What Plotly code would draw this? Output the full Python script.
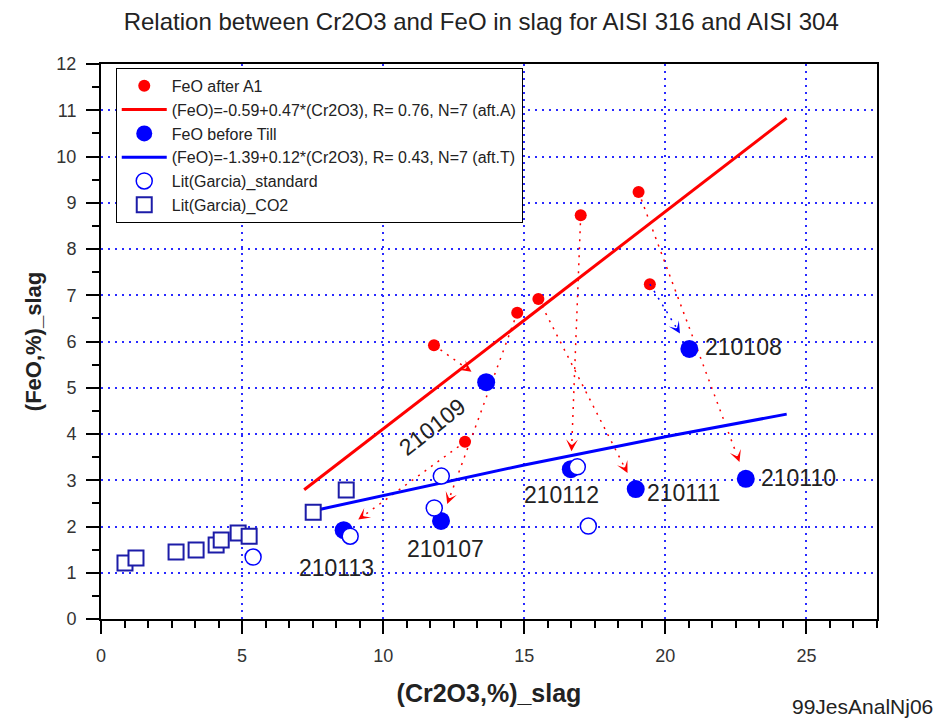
import math
import plotly.graph_objects as go

# ---------------- data ----------------
feo_after_x = [11.8, 14.75, 15.5, 17.0, 19.05, 19.45, 12.9]
feo_after_y = [5.92, 6.62, 6.92, 8.73, 9.23, 7.24, 3.83]

heat_ids = ["210109", "210107", "210111", "210112", "210110", "210108", "210113"]
feo_before_x = [13.65, 12.05, 18.95, 16.65, 22.85, 20.85, 8.6]
feo_before_y = [5.12, 2.12, 2.81, 3.24, 3.03, 5.84, 1.92]

lit_std_x = [8.83, 12.06, 11.81, 16.88, 17.27, 5.39]
lit_std_y = [1.79, 3.09, 2.40, 3.29, 2.01, 1.34]

lit_co2_x = [0.85, 1.24, 2.66, 3.37, 4.08, 4.26, 4.86, 5.25, 7.52, 8.69]
lit_co2_y = [1.21, 1.32, 1.45, 1.49, 1.60, 1.71, 1.86, 1.79, 2.31, 2.79]

fit_a_intercept, fit_a_slope = -0.59, 0.47
fit_a_x = [7.2, 24.3]

fit_t_x = [7.3, 10, 15, 20, 24.3]
fit_t_y = [2.31, 2.67, 3.33, 3.94, 4.43]

x_ticks = [0, 5, 10, 15, 20, 25]
y_ticks = list(range(0, 13))

# ---------------- style / layout ----------------
W, H = 940, 722
M_L, M_R, M_T, M_B = 101, 63, 64, 103
X_RANGE = [0, 27.5]
Y_RANGE = [0, 12]
RED = "#ff0000"
BLUE = "#0000ff"
NAVY = "#1c1ca8"
TXT = "#222222"
FONT = "Liberation Sans, Arial, sans-serif"

kx = (W - M_L - M_R) / (X_RANGE[1] - X_RANGE[0])
ky = (H - M_T - M_B) / (Y_RANGE[1] - Y_RANGE[0])

fig = go.Figure()

fig.add_trace(go.Scatter(
    x=feo_after_x, y=feo_after_y, mode="markers", name="FeO after A1",
    marker=dict(color=RED, size=12)))
fa_y = [fit_a_intercept + fit_a_slope * v for v in fit_a_x]
fig.add_trace(go.Scatter(
    x=fit_a_x, y=fa_y, mode="lines",
    name="(FeO)=-0.59+0.47*(Cr2O3), R= 0.76, N=7 (aft.A)",
    line=dict(color=RED, width=3)))

# dotted connectors (red after -> blue before)
arrow_annos = []
S_GAP = 18
for i in range(len(feo_after_x)):
    ax0, ay0 = feo_after_x[i], feo_after_y[i]
    bx, by = feo_before_x[i], feo_before_y[i]
    dxp, dyp = (bx - ax0) * kx, (by - ay0) * ky
    L = math.hypot(dxp, dyp)
    t_tip = (L - S_GAP) / L
    t_back = (L - S_GAP - 8) / L
    tip = (ax0 + (bx - ax0) * t_tip, ay0 + (by - ay0) * t_tip)
    back = (ax0 + (bx - ax0) * t_back, ay0 + (by - ay0) * t_back)
    col = BLUE if heat_ids[i] == "210108" else RED
    fig.add_trace(go.Scatter(
        x=[ax0, back[0]], y=[ay0, back[1]], mode="lines", showlegend=False,
        hoverinfo="skip", line=dict(color=col, width=1.5, dash="2px,6px")))
    arrow_annos.append(dict(
        x=tip[0], y=tip[1], ax=back[0], ay=back[1], xref="x", yref="y",
        axref="x", ayref="y", text="", showarrow=True, arrowhead=3,
        arrowsize=1.3, arrowwidth=1.5, arrowcolor=col, standoff=0))

fig.add_trace(go.Scatter(
    x=feo_before_x, y=feo_before_y, mode="markers", name="FeO before Till",
    marker=dict(color=BLUE, size=18)))
fig.add_trace(go.Scatter(
    x=fit_t_x, y=fit_t_y, mode="lines",
    name="(FeO)=-1.39+0.12*(Cr2O3), R= 0.43, N=7 (aft.T)",
    line=dict(color=BLUE, width=3)))
fig.add_trace(go.Scatter(
    x=lit_std_x, y=lit_std_y, mode="markers", name="Lit(Garcia)_standard",
    marker=dict(symbol="circle", color="white", size=16,
                line=dict(color=BLUE, width=1.5))))
fig.add_trace(go.Scatter(
    x=lit_co2_x, y=lit_co2_y, mode="markers", name="Lit(Garcia)_CO2",
    marker=dict(symbol="square", color="white", size=15,
                line=dict(color=NAVY, width=2))))

# heat labels
label_style = {
    "210108": dict(xanchor="left", xshift=14, yshift=2, textangle=0),
    "210110": dict(xanchor="left", xshift=13, yshift=1, textangle=0),
    "210111": dict(xanchor="left", xshift=9, yshift=-4, textangle=0),
    "210112": dict(xanchor="center", xshift=-9, yshift=-26, textangle=0),
    "210107": dict(xanchor="center", xshift=4, yshift=-28, textangle=0),
    "210113": dict(xanchor="center", xshift=-7, yshift=-38, textangle=0),
    "210109": dict(xanchor="center", xshift=-54, yshift=-45, textangle=-38),
}
label_annos = []
for hid, bx, by in zip(heat_ids, feo_before_x, feo_before_y):
    st = label_style[hid]
    label_annos.append(dict(
        x=bx, y=by, xref="x", yref="y", text=hid, showarrow=False,
        yanchor="middle", font=dict(family=FONT, size=23, color=TXT), **st))

other_annos = [dict(
    x=1.0747, y=-0.157, xref="paper", yref="paper", text="99JesAnalNj06",
    showarrow=False, xanchor="right", yanchor="middle",
    font=dict(family=FONT, size=21, color=TXT))]

grid_common = dict(
    showgrid=True, gridcolor="#2a2aff", gridwidth=1.5, griddash="2px,5px",
    zeroline=False, showline=True, linecolor="black", linewidth=2,
    mirror=True, ticks="outside", ticklen=13, tickwidth=1.5,
    tickcolor="black", tickfont=dict(family=FONT, size=18, color="#333333"),
    ticklabelstandoff=6,
)

fig.update_layout(
    width=W, height=H,
    margin=dict(l=M_L, r=M_R, t=M_T, b=M_B),
    paper_bgcolor="white", plot_bgcolor="white",
    title=dict(text="Relation between Cr2O3 and FeO in slag for AISI 316 and AISI 304",
               x=0.49, xref="paper", xanchor="center", y=0.97, yref="container",
               yanchor="middle", font=dict(family=FONT, size=24, color=TXT)),
    xaxis=dict(range=X_RANGE, tickvals=x_ticks,
               title=dict(text="<b>(Cr2O3,%)_slag</b>", standoff=20,
                          font=dict(family=FONT, size=25, color=TXT)),
               minor=dict(dtick=5 / 6, tick0=0, ticks="outside", ticklen=7,
                          tickcolor="black", tickwidth=1.5, showgrid=False),
               **grid_common),
    yaxis=dict(range=Y_RANGE, tickvals=y_ticks,
               title=dict(text="<b>(FeO,%)_slag</b>", standoff=9,
                          font=dict(family=FONT, size=22, color=TXT)),
               minor=dict(dtick=0.5, tick0=0, ticks="outside", ticklen=7,
                          tickcolor="black", tickwidth=1.5, showgrid=False),
               **grid_common),
    legend=dict(x=0.019, y=0.993, xanchor="left", yanchor="top",
                bgcolor="white", bordercolor="black", borderwidth=1,
                itemwidth=45,
                font=dict(family=FONT, size=16, color=TXT), tracegroupgap=0),
    annotations=arrow_annos + label_annos + other_annos,
    showlegend=True,
)

fig.write_html("out.html")
